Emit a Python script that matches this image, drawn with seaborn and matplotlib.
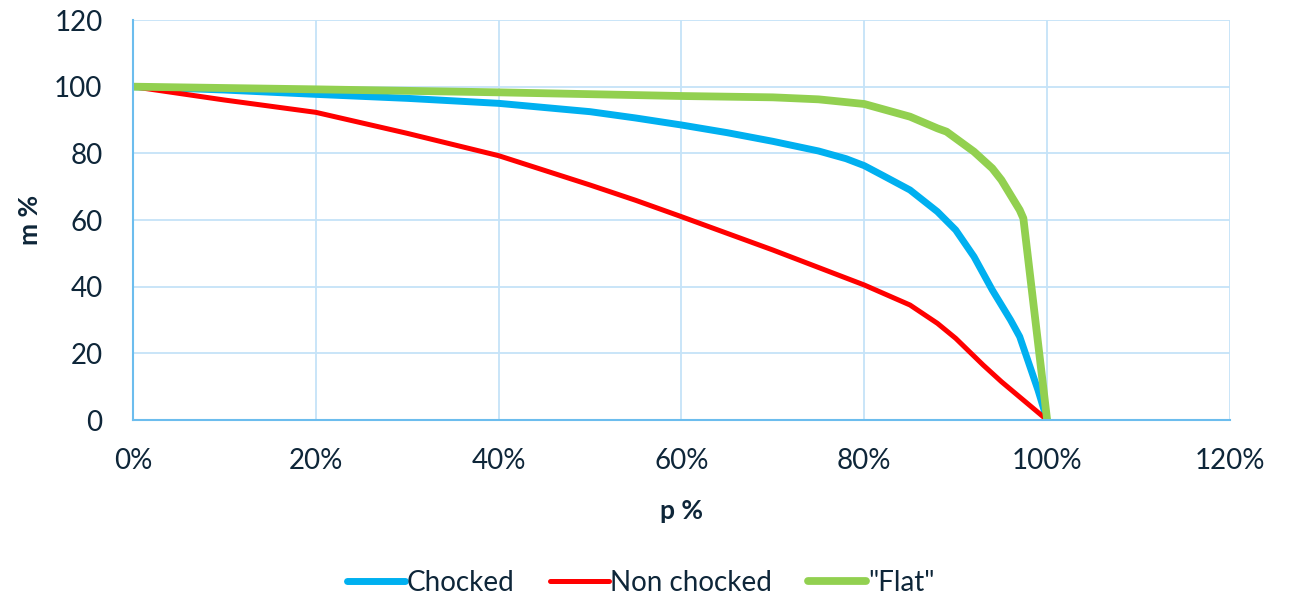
import matplotlib
matplotlib.use("Agg")
import matplotlib.pyplot as plt
import matplotlib.ticker as mticker
import numpy as np
import pandas as pd
import seaborn as sns

# Performance curves: remaining m (%) against p (fraction)
p_chocked = [0.0, 0.10, 0.20, 0.30, 0.40, 0.50, 0.55, 0.60, 0.65, 0.70, 0.75, 0.78,
             0.80, 0.82, 0.85, 0.88, 0.90, 0.92, 0.94, 0.96, 0.97, 0.98, 0.99, 1.00]
m_chocked = [100, 99, 97.7, 96.5, 95, 92.5, 90.6, 88.5, 86.2, 83.6, 80.7, 78.4,
             76.3, 73.4, 69, 62.5, 57, 49, 39, 30, 25, 17, 9, 0]

p_non_chocked = [0.0, 0.10, 0.20, 0.30, 0.40, 0.50, 0.55, 0.60, 0.70, 0.80,
                 0.85, 0.88, 0.90, 0.93, 0.95, 1.00]
m_non_chocked = [100, 96, 92.3, 86, 79.3, 70.5, 65.9, 61, 51, 40.5,
                 34.5, 29, 24.5, 16.5, 11.5, 0]

p_flat = [0.0, 0.20, 0.40, 0.60, 0.70, 0.75, 0.80, 0.85, 0.88, 0.89, 0.90, 0.92,
          0.93, 0.94, 0.95, 0.96, 0.97, 0.974, 1.00]
m_flat = [100, 99.2, 98.3, 97.2, 96.8, 96.2, 94.8, 91, 87.5, 86.5, 84.5, 80.5,
          78, 75.5, 72, 67.5, 63, 60.5, 0]

series_names = ["Chocked", "Non chocked", "\"Flat\""]
series_colors = ["#00B0F0", "#FF0000", "#92D050"]
series_widths = [5.0, 3.6, 5.6]

frames = []
for name, p, m in zip(series_names, [p_chocked, p_non_chocked, p_flat],
                      [m_chocked, m_non_chocked, m_flat]):
    frames.append(pd.DataFrame({"p": p, "m": m, "series": name}))
data = pd.concat(frames, ignore_index=True)

sns.set_theme(style="white")
plt.rcParams["font.family"] = ["Lato", "DejaVu Sans"]

text_color = "#0E2639"
grid_color = "#C5E3F8"
spine_color = "#6CBDEE"

fig = plt.figure(figsize=(12.94, 5.99), dpi=100)
ax = fig.add_axes([0.1028, 0.2988, 0.8477, 0.6678])

for name, color, lw in zip(series_names, series_colors, series_widths):
    sns.lineplot(data=data[data["series"] == name], x="p", y="m", sort=False,
                 color=color, linewidth=lw, ax=ax, label=name,
                 solid_capstyle="round", solid_joinstyle="round")

ax.set_xlim(0, 1.2)
ax.set_ylim(0, 120)
ax.xaxis.set_major_locator(mticker.MultipleLocator(0.2))
ax.yaxis.set_major_locator(mticker.MultipleLocator(20))
ax.xaxis.set_major_formatter(mticker.PercentFormatter(xmax=1.0, decimals=0))

ax.grid(True, color=grid_color, linewidth=1.3)
ax.set_axisbelow(True)
for side in ["top", "right"]:
    ax.spines[side].set_visible(False)
for side in ["left", "bottom"]:
    ax.spines[side].set_color(spine_color)
    ax.spines[side].set_linewidth(1.5)

ax.tick_params(axis="both", which="both", length=0, labelsize=20,
               labelcolor=text_color)
ax.tick_params(axis="x", pad=20)
ax.tick_params(axis="y", pad=22)

ax.set_xlabel("p %", fontsize=19, fontweight="bold", color=text_color, labelpad=18)
ax.set_ylabel("m %", fontsize=19, fontweight="bold", color=text_color, labelpad=9)

handles, labels = ax.get_legend_handles_labels()
ax.get_legend().remove()
fig.legend(handles, labels, loc="center", bbox_to_anchor=(0.495, 0.027),
           ncol=3, frameon=False, fontsize=20, handlelength=2.1,
           handletextpad=0.05, columnspacing=1.3, labelcolor=text_color)

fig.savefig("out.png", dpi=100)
